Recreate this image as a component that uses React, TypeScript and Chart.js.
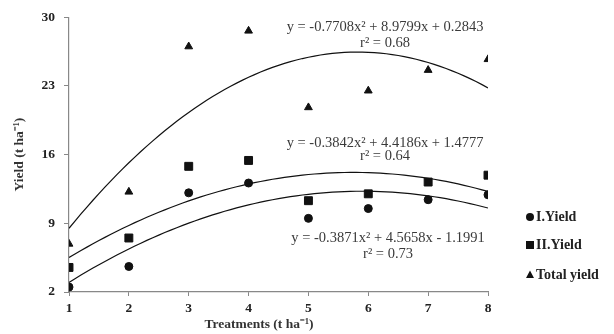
import React, { useEffect, useRef } from "react";
import { Chart, registerables } from "chart.js";

Chart.register(...registerables);

const treatments = [1, 2, 3, 4, 5, 6, 7, 8];
const yTickValues = [2, 9, 16, 23, 30];
const iYield = [2.5, 4.6, 12.1, 13.1, 9.5, 10.5, 11.4, 11.9];
const iiYield = [4.5, 7.5, 14.8, 15.4, 11.3, 12.0, 13.2, 13.9];
const totalYield = [6.9, 12.2, 27.0, 28.6, 20.8, 22.5, 24.6, 25.7];

// polynomial trendline coefficients [a, b, c] for y = a x^2 + b x + c
const totalCoef = [-0.7708, 8.9799, 0.2843];
const iiCoef = [-0.3842, 4.4186, 1.4777];
const iCoef = [-0.3871, 4.5658, -1.1991];

const equationTexts = [
  "y = -0.7708x\u00B2 + 8.9799x + 0.2843",
  "y = -0.3842x\u00B2 + 4.4186x + 1.4777",
  "y = -0.3871x\u00B2 + 4.5658x - 1.1991",
];
const r2Texts = ["r\u00B2 = 0.68", "r\u00B2 = 0.64", "r\u00B2 = 0.73"];
const legendLabels = ["I.Yield", "II.Yield", "Total yield"];
const xTitle = "Treatments (t ha\u207B\u00B9)";
const yTitle = "Yield (t ha\u207B\u00B9)";

const SERIF = "'Liberation Serif', 'Times New Roman', serif";

function trend(coef: number[]) {
  const pts: { x: number; y: number }[] = [];
  for (let i = 0; i <= 70; i++) {
    const x = 1 + i * 0.1;
    pts.push({ x, y: coef[0] * x * x + coef[1] * x + coef[2] });
  }
  return pts;
}

const toPts = (arr: number[]) => arr.map((y, i) => ({ x: treatments[i], y }));

export default function App() {
  const ref = useRef<HTMLCanvasElement | null>(null);
  useEffect(() => {
    if (!ref.current) return;
    const annot = {
      id: "annot",
      afterDraw(chart: any) {
        const ctx = chart.ctx;
        const xs = chart.scales.x;
        const ys = chart.scales.y;
        ctx.save();
        ctx.fillStyle = "#3a3a3a";
        ctx.textAlign = "center";
        ctx.textBaseline = "middle";
        ctx.font = `14.5px ${SERIF}`;
        const eqPos = [
          [6.28, 29.0, 27.3],
          [6.28, 17.2, 15.8],
          [6.33, 7.44, 5.9],
        ];
        eqPos.forEach((p, i) => {
          const x = xs.getPixelForValue(p[0]);
          ctx.fillText(equationTexts[i], x, ys.getPixelForValue(p[1]));
          ctx.fillText(r2Texts[i], x, ys.getPixelForValue(p[2]));
        });
        // x axis title
        ctx.fillStyle = "#333";
        ctx.font = `bold 13.5px ${SERIF}`;
        ctx.fillText(xTitle, 259, 325);
        // legend
        const lx = 530;
        const lys = [217, 245, 275];
        ctx.textAlign = "left";
        ctx.font = `bold 14px ${SERIF}`;
        lys.forEach((y, i) => {
          ctx.fillStyle = "#111";
          ctx.beginPath();
          if (i === 0) {
            ctx.arc(lx, y, 4, 0, Math.PI * 2);
          } else if (i === 1) {
            ctx.rect(lx - 4, y - 4, 8, 8);
          } else {
            ctx.moveTo(lx, y - 4.5);
            ctx.lineTo(lx + 4, y + 3);
            ctx.lineTo(lx - 4, y + 3);
            ctx.closePath();
          }
          ctx.fill();
          ctx.fillStyle = "#222";
          ctx.fillText(legendLabels[i], lx + 6, y);
        });
        ctx.restore();
      },
    };
    const lineDs = (label: string, coef: number[]) => ({
      label,
      type: "line",
      data: trend(coef),
      borderColor: "#111",
      borderWidth: 1.2,
      pointRadius: 0,
      fill: false,
      tension: 0,
    });
    const chart = new Chart(ref.current, {
      type: "scatter",
      data: {
        datasets: [
          lineDs("Total trend", totalCoef) as any,
          lineDs("II trend", iiCoef) as any,
          lineDs("I trend", iCoef) as any,
          {
            label: legendLabels[0],
            data: toPts(iYield),
            pointStyle: "circle",
            pointRadius: 4,
            backgroundColor: "#111",
            borderColor: "#111",
          },
          {
            label: legendLabels[1],
            data: toPts(iiYield),
            pointStyle: "rect",
            pointRadius: 5.6,
            backgroundColor: "#111",
            borderColor: "#111",
          },
          {
            label: legendLabels[2],
            data: toPts(totalYield),
            pointStyle: "triangle",
            pointRadius: 4.5,
            backgroundColor: "#111",
            borderColor: "#111",
          },
        ],
      },
      options: {
        animation: false,
        responsive: false,
        maintainAspectRatio: false,
        layout: { padding: { top: 14, right: 126, left: 0, bottom: 0 } },
        plugins: {
          legend: { display: false },
          tooltip: { enabled: false },
        },
        scales: {
          x: {
            type: "linear",
            min: 1,
            max: 8,
            afterFit: (s: any) => {
              s.height = 42;
            },
            afterBuildTicks: (s: any) => {
              s.ticks = treatments.map((v) => ({ value: v }));
            },
            grid: { drawOnChartArea: false, drawTicks: true, tickLength: 4, color: "#888" },
            border: { color: "#888", width: 1.2 },
            ticks: {
              padding: 4,
              color: "#222",
              font: { family: SERIF, size: 13.5, weight: "bold" },
            },
            title: { display: false },
          },
          y: {
            type: "linear",
            min: 2,
            max: 30,
            afterFit: (s: any) => {
              s.width = 69;
            },
            afterBuildTicks: (s: any) => {
              s.ticks = yTickValues.map((v) => ({ value: v }));
            },
            grid: { drawOnChartArea: false, drawTicks: true, tickLength: 5, color: "#888" },
            border: { color: "#888", width: 1.2 },
            ticks: {
              padding: 9,
              color: "#222",
              font: { family: SERIF, size: 13.5, weight: "bold" },
            },
            title: {
              display: true,
              text: yTitle,
              color: "#333",
              font: { family: SERIF, size: 13.5, weight: "bold" },
              padding: { top: 11, bottom: 0 },
            },
          },
        },
      },
      plugins: [annot],
    });
    return () => chart.destroy();
  }, []);
  return (
    <div style={{ position: "absolute", left: 0, top: 0, width: 614, height: 334, background: "#fff" }}>
      <canvas ref={ref} width={614} height={334} style={{ width: 614, height: 334 }} />
    </div>
  );
}
